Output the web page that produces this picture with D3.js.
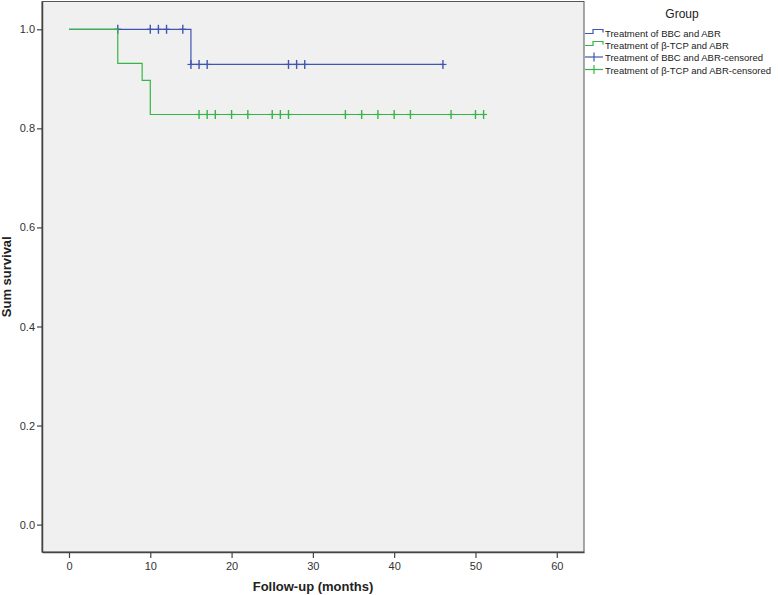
<!DOCTYPE html>
<html>
<head>
<meta charset="utf-8">
<script src="https://cdn.jsdelivr.net/npm/d3@7"></script>
<style>
  body { margin: 0; background: #fff; }
  svg { display: block; font-family: Arial, "Liberation Sans", sans-serif; }
</style>
</head>
<body>
<svg id="visualization" width="778" height="595"></svg>
<script>
// Kaplan-Meier steps
const bbcStepTimes = [0, 15];
const bbcStepSurv = [1.0, 0.929];
const bbcEnd = 46;
const bbcCensored = [6, 10, 11, 12, 14, 15, 16, 17, 27, 28, 29, 46];

const tcpStepTimes = [0, 6, 9, 10];
const tcpStepSurv = [1.0, 0.931, 0.897, 0.828];
const tcpEnd = 51;
const tcpCensored = [16, 17, 18, 20, 22, 25, 26, 27, 34, 36, 38, 40, 42, 47, 50, 51];

const xTicks = [0, 10, 20, 30, 40, 50, 60];
const yTicks = [0, 0.2, 0.4, 0.6, 0.8, 1.0];

const legendTitle = "Group";
const legendLabels = [
    "Treatment of BBC and ABR",
    "Treatment of β-TCP and ABR",
    "Treatment of BBC and ABR-censored",
    "Treatment of β-TCP and ABR-censored"
];

const blue = "#3f56b0";
const green = "#36b546";

const plot = { left: 42, top: 1.5, right: 584, bottom: 552 };

const svg = d3.select("#visualization");

const xScale = d3.scaleLinear()
    .domain([-3.32, 63.35])
    .range([plot.left, plot.right]);
const yScale = d3.scaleLinear()
    .domain([-0.0553, 1.0561])
    .range([plot.bottom, plot.top]);

svg.append("rect")
    .attr("x", plot.left)
    .attr("y", plot.top)
    .attr("width", plot.right - plot.left)
    .attr("height", plot.bottom - plot.top)
    .attr("fill", "#f0f0f0")
    .attr("stroke", "#555")
    .attr("stroke-width", 1);

// axes
const xAxis = svg.append("g")
    .attr("transform", `translate(0, ${plot.bottom})`)
    .call(d3.axisBottom(xScale).tickValues(xTicks).tickSizeInner(6).tickSizeOuter(0).tickPadding(4));
const yAxis = svg.append("g")
    .attr("transform", `translate(${plot.left}, 0)`)
    .call(d3.axisLeft(yScale).tickValues(yTicks).tickFormat(d3.format(".1f")).tickSizeInner(5).tickSizeOuter(0).tickPadding(2));

[xAxis, yAxis].forEach(ax => {
    ax.select(".domain").attr("stroke", "#444").attr("stroke-width", 1.5);
    ax.selectAll(".tick line").attr("stroke", "#444").attr("stroke-width", 1.2);
    ax.selectAll(".tick text")
        .attr("fill", "#333")
        .attr("font-size", 11)
        .attr("font-family", "Arial, 'Liberation Sans', sans-serif");
});

svg.append("text")
    .attr("x", (plot.left + plot.right) / 2)
    .attr("y", 591)
    .attr("text-anchor", "middle")
    .attr("font-weight", "bold")
    .attr("font-size", 13)
    .attr("fill", "#222")
    .text("Follow-up (months)");

svg.append("text")
    .attr("transform", `translate(11, ${(plot.top + plot.bottom) / 2}) rotate(-90)`)
    .attr("text-anchor", "middle")
    .attr("font-weight", "bold")
    .attr("font-size", 13)
    .attr("fill", "#222")
    .text("Sum survival");

// curves
const survAt = (times, surv, t) => surv[d3.bisectRight(times, t) - 1];

const stepLine = d3.line()
    .x(d => xScale(d.t))
    .y(d => yScale(d.s))
    .curve(d3.curveStepAfter);

const groups = [
    { times: bbcStepTimes, surv: bbcStepSurv, end: bbcEnd, cens: bbcCensored, color: blue },
    { times: tcpStepTimes, surv: tcpStepSurv, end: tcpEnd, cens: tcpCensored, color: green }
];

groups.forEach(g => {
    const pts = g.times.map((t, i) => ({ t: t, s: g.surv[i] }));
    pts.push({ t: g.end, s: g.surv[g.surv.length - 1] });

    svg.append("path")
        .datum(pts)
        .attr("d", stepLine)
        .attr("fill", "none")
        .attr("stroke", g.color)
        .attr("stroke-width", 1.2);

    const marks = svg.append("g");
    g.cens.forEach(t => {
        const cx = xScale(t);
        const cy = yScale(survAt(g.times, g.surv, t));
        marks.append("line")
            .attr("x1", cx).attr("x2", cx)
            .attr("y1", cy - 4.5).attr("y2", cy + 4.5)
            .attr("stroke", g.color).attr("stroke-width", 1.4);
        marks.append("line")
            .attr("x1", cx - 3.5).attr("x2", cx + 3.5)
            .attr("y1", cy).attr("y2", cy)
            .attr("stroke", g.color).attr("stroke-width", 1.2);
    });
});

// legend
const legend = svg.append("g");
legend.append("text")
    .attr("x", 682)
    .attr("y", 18)
    .attr("text-anchor", "middle")
    .attr("font-size", 12)
    .attr("fill", "#222")
    .text(legendTitle);

const legendRows = [33, 45, 57, 69.5];
const legendColors = [blue, green, blue, green];

const labelTexts = [];
legendLabels.forEach((label, i) => {
    const y = legendRows[i];
    if (i < 2) {
        legend.append("path")
            .attr("d", `M585,${y + 0.5}H593V${y - 3.5}H603V${y - 0.5}`)
            .attr("fill", "none")
            .attr("stroke", legendColors[i])
            .attr("stroke-width", 1.2);
    } else {
        legend.append("line")
            .attr("x1", 585).attr("x2", 603)
            .attr("y1", y).attr("y2", y)
            .attr("stroke", legendColors[i]).attr("stroke-width", 1.2);
        legend.append("line")
            .attr("x1", 594).attr("x2", 594)
            .attr("y1", y - 4.5).attr("y2", y + 4.5)
            .attr("stroke", legendColors[i]).attr("stroke-width", 1.2);
    }
    labelTexts.push(legend.append("text")
        .attr("x", 605)
        .attr("y", y + 4)
        .attr("font-size", 10.5)
        .attr("fill", "#222")
        .text(label));
});

// shrink legend labels so the longest one ends near x = 771
const widest = d3.max(labelTexts, t => t.node().getComputedTextLength());
if (widest > 166) {
    labelTexts.forEach(t => t.attr("font-size", 10.5 * 166 / widest));
}
</script>
</body>
</html>
